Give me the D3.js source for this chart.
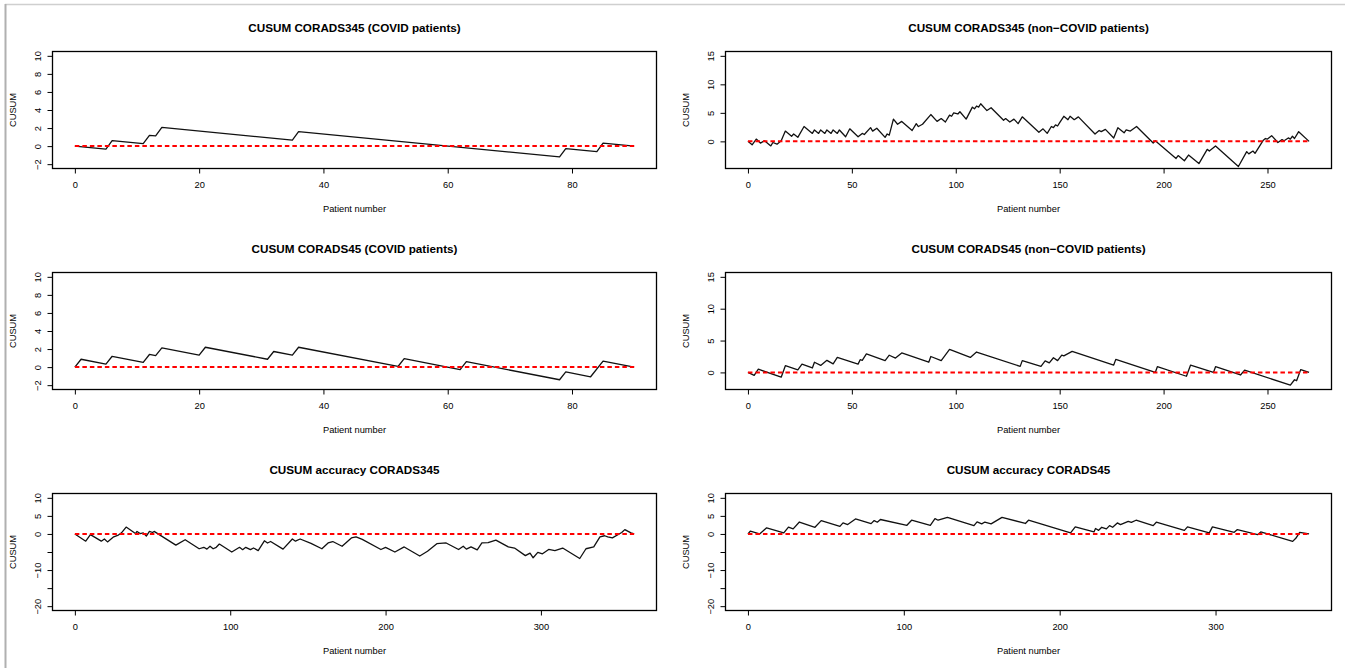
<!DOCTYPE html>
<html><head><meta charset="utf-8">
<script src="https://cdn.jsdelivr.net/npm/d3@7"></script>
<style>html,body{margin:0;padding:0;background:#fff}svg{display:block}</style>
</head><body>
<svg id="c" width="1345" height="668"></svg>
<script>
// ---------------- data (vertices [patient number, CUSUM]) ----------------
const titles = [
  "CUSUM CORADS345 (COVID patients)",
  "CUSUM CORADS345 (non\u2212COVID patients)",
  "CUSUM CORADS45 (COVID patients)",
  "CUSUM CORADS45 (non\u2212COVID patients)",
  "CUSUM accuracy CORADS345",
  "CUSUM accuracy CORADS45"
];
const xLabel = "Patient number";
const yLabel = "CUSUM";

const cusum345Covid = [[0,0],[5,-0.33],[6,0.6],[11,0.27],[12,1.2],[13,1.13],[14,2.07],[35,0.67],[36,1.6],[78,-1.2],[79,-0.27],[84,-0.6],[85,0.33],[90,0]];

const cusum345NonCovid = [[0,0],[2,-0.6],[4,0.4],[6,-0.3],[8,0.1],[11,-0.8],[12,-0.2],[14,-0.5],[16,0.1],[18,1.8],[21,0.9],[22,1.3],[24,0.7],[27,2.6],[31,1.4],[32,2.0],[34,1.4],[35,2.0],[37,1.4],[38,2.0],[40,1.4],[41,2.0],[43,1.4],[44,2.0],[47,0.8],[49,2.2],[53,0.8],[55,1.4],[56,1.2],[59,2.4],[60,1.8],[62,2.3],[66,0.7],[67,1.3],[68,1.1],[70,3.9],[72,3.0],[74,3.5],[79,1.9],[81,3.1],[82,2.6],[84,3.0],[88,4.7],[91,3.5],[93,4.0],[95,3.4],[97,4.6],[98,4.4],[99,5.0],[101,4.8],[102,5.2],[105,3.9],[108,6.0],[109,5.7],[110,6.2],[111,6.0],[112,6.6],[115,5.4],[117,5.9],[123,3.7],[124,4.0],[126,3.4],[128,3.9],[130,3.1],[132,4.3],[140,1.6],[142,2.2],[144,1.4],[146,2.6],[147,2.4],[148,2.9],[149,2.7],[150,3.3],[152,4.4],[154,3.8],[155,4.4],[157,3.8],[159,4.3],[167,1.3],[169,1.9],[170,1.7],[172,2.1],[176,0.6],[178,2.4],[181,1.5],[182,2.0],[184,1.8],[187,2.6],[195,-0.3],[196,0.1],[206,-3.0],[207,-2.5],[210,-3.4],[212,-2.4],[217,-3.9],[221,-1.4],[222,-1.7],[225,-0.8],[236,-4.4],[240,-1.8],[241,-2.2],[243,-1.7],[244,-2.1],[248,0.2],[249,0.5],[250,0.4],[252,1.0],[255,-0.2],[257,0.3],[258,0.1],[260,0.6],[261,0.4],[262,0.9],[263,0.5],[265,1.7],[270,0]];

const cusum45Covid = [[0,0],[1,0.87],[5,0.33],[6,1.2],[11,0.53],[12,1.4],[13,1.27],[14,2.13],[20,1.33],[21,2.2],[31,0.87],[32,1.73],[35,1.33],[36,2.2],[52,0.07],[53,0.93],[62,-0.27],[63,0.6],[78,-1.4],[79,-0.53],[83,-1.07],[85,0.67],[90,0]];

const cusum45NonCovid = [[0,0],[3,-0.45],[5,0.5],[16,-0.75],[18,1.05],[24,0.4],[26,1.3],[31,0.7],[32,1.6],[35,1.1],[38,1.9],[41,1.35],[43,2.35],[53,1.3],[54,2.0],[55,1.9],[57,2.9],[66,1.85],[68,2.7],[71,2.25],[74,3.05],[87,1.6],[88,2.5],[93,1.85],[97,3.6],[107,2.35],[110,3.2],[131,0.95],[132,1.85],[141,0.95],[143,1.8],[145,1.5],[147,2.3],[149,1.85],[151,2.7],[152,2.6],[156,3.3],[176,1.15],[177,2.05],[196,0.0],[197,0.9],[211,-0.6],[213,1.15],[224,0.0],[225,0.9],[237,-0.4],[239,0.35],[261,-2.0],[263,-1.15],[264,-1.3],[266,0.45],[270,0]];

const accuracy345 = [[0,0],[7,-2.0],[10,-0.2],[17,-2.0],[19,-1.4],[21,-2.2],[25,-0.8],[28,-0.3],[30,0.3],[33,1.9],[39,0.1],[40,0.7],[42,0.1],[44,0.3],[46,-0.6],[48,0.7],[50,0.4],[51,0.7],[65,-3.1],[71,-1.6],[80,-4.1],[83,-3.7],[85,-4.2],[87,-3.4],[89,-4.1],[91,-3.7],[93,-2.8],[101,-5.0],[106,-3.7],[108,-4.35],[110,-3.7],[113,-4.35],[115,-3.9],[118,-4.6],[122,-1.9],[124,-2.5],[126,-2.1],[134,-4.2],[140,-1.4],[142,-2.0],[145,-1.4],[152,-2.6],[159,-4.1],[163,-2.5],[166,-2.1],[172,-3.4],[178,-1.1],[181,-0.8],[185,-1.5],[197,-4.3],[200,-3.7],[206,-5.0],[212,-3.6],[222,-6.1],[227,-4.8],[233,-2.7],[239,-2.5],[247,-4.3],[250,-3.4],[252,-4.2],[255,-3.6],[259,-4.4],[262,-2.5],[266,-2.4],[271,-1.7],[279,-3.6],[283,-3.9],[290,-6.0],[293,-5.3],[295,-6.6],[298,-5.1],[301,-5.5],[305,-4.3],[309,-4.6],[314,-3.9],[325,-6.8],[329,-4.1],[334,-3.6],[338,-0.8],[341,-0.5],[343,-0.8],[346,-1.1],[352,0.4],[354,1.2],[358,0.3],[360,0]];

const accuracy45 = [[0,0],[1.5,0.75],[7.5,0],[12,1.7],[23,0.3],[26,1.9],[29,1.4],[33,3.3],[43,1.85],[47,3.7],[59,2.1],[61,3.05],[64,2.6],[69,4.15],[79,2.85],[81,3.7],[83,3.25],[85,4.0],[102,2.4],[105,3.8],[117,2.4],[120,4.25],[122,3.8],[128,4.6],[145,2.3],[147,3.35],[150,2.8],[152,3.3],[156,2.8],[163,4.6],[178,2.9],[180,3.8],[207,0.3],[210,1.95],[222,0.55],[223,1.5],[225,1.0],[227,1.85],[230,1.4],[232,2.3],[234,1.85],[237,3.05],[239,2.6],[244,3.5],[246,3.2],[249,3.8],[260,2.3],[262,3.25],[280,1.0],[282,1.95],[296,0.3],[298,1.95],[312,0.45],[314,1.2],[327,-0.2],[329,0.55],[349.5,-2.05],[351.5,-1.2],[354,0.45],[360,0]];

// axis ranges and ticks
const nPatients = [90, 270, 90, 270, 360, 360];
const yLimits = [[-2,10],[-4,15],[-2,10],[-2,15],[-20,10],[-20,10]];
const xTicks90 = [0,20,40,60,80];
const xTicks270 = [0,50,100,150,200,250];
const xTicks360 = [0,100,200,300];
const yTicksSmall = [-2,0,2,4,6,8,10];
const yTicksMid = [0,5,10,15];
const yTicksWide = [-20,-15,-10,-5,0,5,10];
const yLabelsWide = [-20,-10,0,5,10];

// ---------------- drawing ----------------
const FONT = "'Liberation Sans', Arial, Helvetica, sans-serif";
const svg = d3.select("#c").attr("font-family", FONT);

// screenshot frame
svg.append("line").attr("x1",5).attr("x2",1345).attr("y1",4.5).attr("y2",4.5)
  .attr("stroke","#cfcfcf").attr("stroke-width",1.5);
svg.append("line").attr("x1",5.5).attr("x2",5.5).attr("y1",4).attr("y2",668)
  .attr("stroke","#b0b0b0").attr("stroke-width",2);

const panels = [
  {title:titles[0], data:cusum345Covid,    n:nPatients[0], ylim:yLimits[0], xt:xTicks90,  yt:yTicksSmall, yl:yTicksSmall, col:0,row:0},
  {title:titles[1], data:cusum345NonCovid, n:nPatients[1], ylim:yLimits[1], xt:xTicks270, yt:yTicksMid,   yl:yTicksMid,   col:1,row:0},
  {title:titles[2], data:cusum45Covid,     n:nPatients[2], ylim:yLimits[2], xt:xTicks90,  yt:yTicksSmall, yl:yTicksSmall, col:0,row:1},
  {title:titles[3], data:cusum45NonCovid,  n:nPatients[3], ylim:yLimits[3], xt:xTicks270, yt:yTicksMid,   yl:yTicksMid,   col:1,row:1},
  {title:titles[4], data:accuracy345,      n:nPatients[4], ylim:yLimits[4], xt:xTicks360, yt:yTicksWide,  yl:yLabelsWide, col:0,row:2},
  {title:titles[5], data:accuracy45,       n:nPatients[5], ylim:yLimits[5], xt:xTicks360, yt:yTicksWide,  yl:yLabelsWide, col:1,row:2}
];

const colBox = [[52.5, 656.5],[725.5, 1331.5]];
const rowTop0 = 51.5, rowPitch = 221, boxH = 117;
const fmt = d3.format("d");
const AX = 9.3, TT = 11.7;

panels.forEach(p => {
  const [x0, x1] = colBox[p.col];
  const top = rowTop0 + rowPitch*p.row, bottom = top + boxH;
  const n = p.n;
  const x = d3.scaleLinear().domain([-0.04*n, 1.04*n]).range([x0, x1]);
  const [lo, hi] = p.ylim, R = hi - lo;
  const y = d3.scaleLinear().domain([lo-0.04*R, hi+0.04*R]).range([bottom, top]);
  const g = svg.append("g");

  // title
  g.append("text").attr("x",(x0+x1)/2).attr("y",top-19.5)
    .attr("text-anchor","middle").attr("font-weight","bold").attr("font-size",TT)
    .attr("fill","#000").text(p.title);

  // x axis
  const ax = g.append("g").attr("transform",`translate(0,${bottom})`)
    .call(d3.axisBottom(x).tickValues(p.xt).tickSize(5).tickSizeOuter(0).tickFormat(fmt));
  ax.select(".domain").remove();
  ax.attr("font-family",FONT).attr("font-size",AX);
  ax.selectAll(".tick line").attr("stroke","#000").attr("stroke-width",1);
  ax.selectAll(".tick text").attr("y",16.5).attr("dy","0.35em").attr("fill","#000");

  // y axis
  const ay = g.append("g").attr("transform",`translate(${x0},0)`)
    .call(d3.axisLeft(y).tickValues(p.yt).tickSize(5).tickSizeOuter(0)
      .tickFormat(v => p.yl.includes(v) ? fmt(v) : ""));
  ay.select(".domain").remove();
  ay.attr("font-family",FONT).attr("font-size",AX);
  ay.selectAll(".tick line").attr("stroke","#000").attr("stroke-width",1);
  ay.selectAll(".tick text").attr("x",null).attr("dy","0.35em")
    .attr("text-anchor","middle").attr("transform","translate(-15,0) rotate(-90)").attr("fill","#000");

  // axis titles
  g.append("text").attr("x",(x0+x1)/2).attr("y",bottom+40).attr("dy","0.35em")
    .attr("text-anchor","middle").attr("font-size",AX).attr("fill","#000").text(xLabel);
  g.append("text").attr("transform",`translate(${x0-40},${(top+bottom)/2}) rotate(-90)`)
    .attr("dy","0.35em").attr("text-anchor","middle").attr("font-size",AX).attr("fill","#000").text(yLabel);

  // data line
  g.append("path").datum(p.data)
    .attr("d", d3.line().x(d => x(d[0])).y(d => y(d[1])))
    .attr("fill","none").attr("stroke","#111").attr("stroke-width",1.3).attr("stroke-linejoin","round");

  // reference line at 0
  g.append("line").attr("x1",x(0)).attr("x2",x(n)).attr("y1",y(0)).attr("y2",y(0))
    .attr("stroke","#ff0000").attr("stroke-width",2).attr("stroke-dasharray","4.5,3");

  // box
  g.append("rect").attr("x",x0).attr("y",top).attr("width",x1-x0).attr("height",boxH)
    .attr("fill","none").attr("stroke","#000").attr("stroke-width",1.3);
});
</script>
</body></html>
